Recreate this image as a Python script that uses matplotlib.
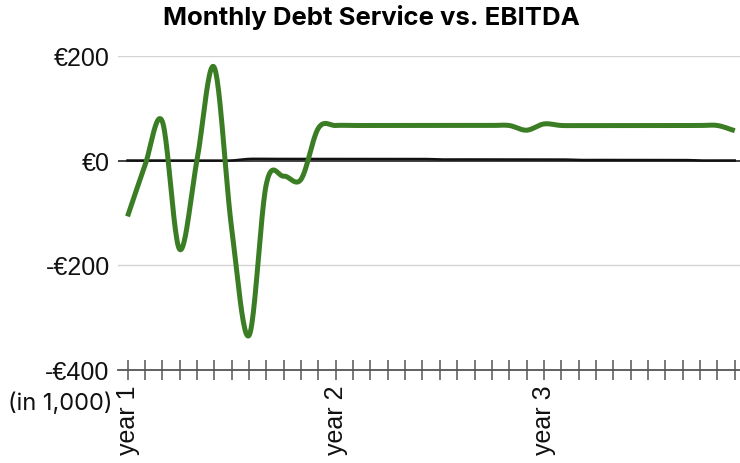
import numpy as np
import matplotlib
matplotlib.use("Agg")
import matplotlib.pyplot as plt
from matplotlib.ticker import FixedLocator, FuncFormatter

# Monthly figures over three years (in 1,000 €)
months = list(range(36))
ebitda = [-107, -10, 75, -170, 0, 178, -130, -335, -45, -30, -36, 62,
          67, 67, 67, 67, 67, 67, 67, 67, 67, 67, 67, 58,
          70, 67, 67, 67, 67, 67, 67, 67, 67, 67, 67, 57]
debt_service = [0, 0, 0, 0, 0, 0, 0, 3, 3, 3, 3, 3,
                3, 3, 3, 3, 3, 3, 2, 2, 2, 2, 2, 2,
                2, 2, 1, 1, 1, 1, 1, 1, 1, 0, 0, 0]
year_labels = {0: "year 1", 12: "year 2", 24: "year 3"}
y_ticks = [-400, -200, 0, 200]

GREEN = "#3b7d24"


def smooth(x, y, n=24):
    """Catmull-Rom curve through the given points (for a rounded line)."""
    x = np.asarray(x, float)
    y = np.asarray(y, float)
    yp = np.concatenate([[2 * y[0] - y[1]], y, [2 * y[-1] - y[-2]]])
    xs, ys = [], []
    t = np.linspace(0, 1, n, endpoint=False)
    for i in range(len(y) - 1):
        p0, p1, p2, p3 = yp[i], yp[i + 1], yp[i + 2], yp[i + 3]
        seg = 0.5 * ((2 * p1) + (-p0 + p2) * t
                     + (2 * p0 - 5 * p1 + 4 * p2 - p3) * t ** 2
                     + (-p0 + 3 * p1 - 3 * p2 + p3) * t ** 3)
        xs.append(x[i] + (x[i + 1] - x[i]) * t)
        ys.append(seg)
    xs.append([x[-1]])
    ys.append([y[-1]])
    return np.concatenate(xs), np.concatenate(ys)


fig = plt.figure(figsize=(7.4, 4.64), dpi=100)
W, H = 740, 464
ax = fig.add_axes([118 / W, 1 - 370.5 / H, 622 / W, (370.5 - 57) / H])

ax.set_ylim(-400, 200)
ax.set_xlim(-0.55, 35.3)

# gridlines and zero baseline
for v in (200, -200):
    ax.axhline(v, color="#d4d4d4", lw=1.0, zorder=1)
ax.axhline(0, color="#333333", lw=1.3, zorder=2)

xs, ys = smooth(months, ebitda)
ax.plot(xs, ys, color=GREEN, lw=3.6, solid_capstyle="butt", zorder=4)
xd, yd = smooth(months, debt_service)
ax.plot(xd, yd, color="#111111", lw=1.8, zorder=3)

for side in ("top", "right", "left"):
    ax.spines[side].set_visible(False)
ax.spines["bottom"].set_color("#555555")
ax.spines["bottom"].set_linewidth(1.3)

ax.yaxis.set_major_locator(FixedLocator(y_ticks))
ax.yaxis.set_major_formatter(FuncFormatter(
    lambda v, p: f"€{int(v)}" if v >= 0 else f"-€{int(-v)}"))
ax.tick_params(axis="y", length=0, pad=6, labelsize=18, labelcolor="#111111")

ax.xaxis.set_major_locator(FixedLocator(months))
ax.xaxis.set_major_formatter(FuncFormatter(
    lambda v, p: year_labels.get(int(round(v)), "")))
ax.tick_params(axis="x", direction="inout", length=15, width=1.1,
               color="#555555", pad=3, labelsize=18, labelcolor="#111111",
               labelrotation=90)

for lab in ax.get_xticklabels() + ax.get_yticklabels():
    lab.set_fontfamily("Liberation Sans")

fig.text(0.502, 1 - 18 / H, "Monthly Debt Service vs. EBITDA",
         ha="center", va="center", fontsize=18.5, fontweight="bold",
         family="Inter")
fig.text(8 / W, 1 - 404 / H, "(in 1,000)", ha="left", va="center",
         fontsize=17, family="Inter", color="#111111")

fig.savefig("out.png", dpi=100)
